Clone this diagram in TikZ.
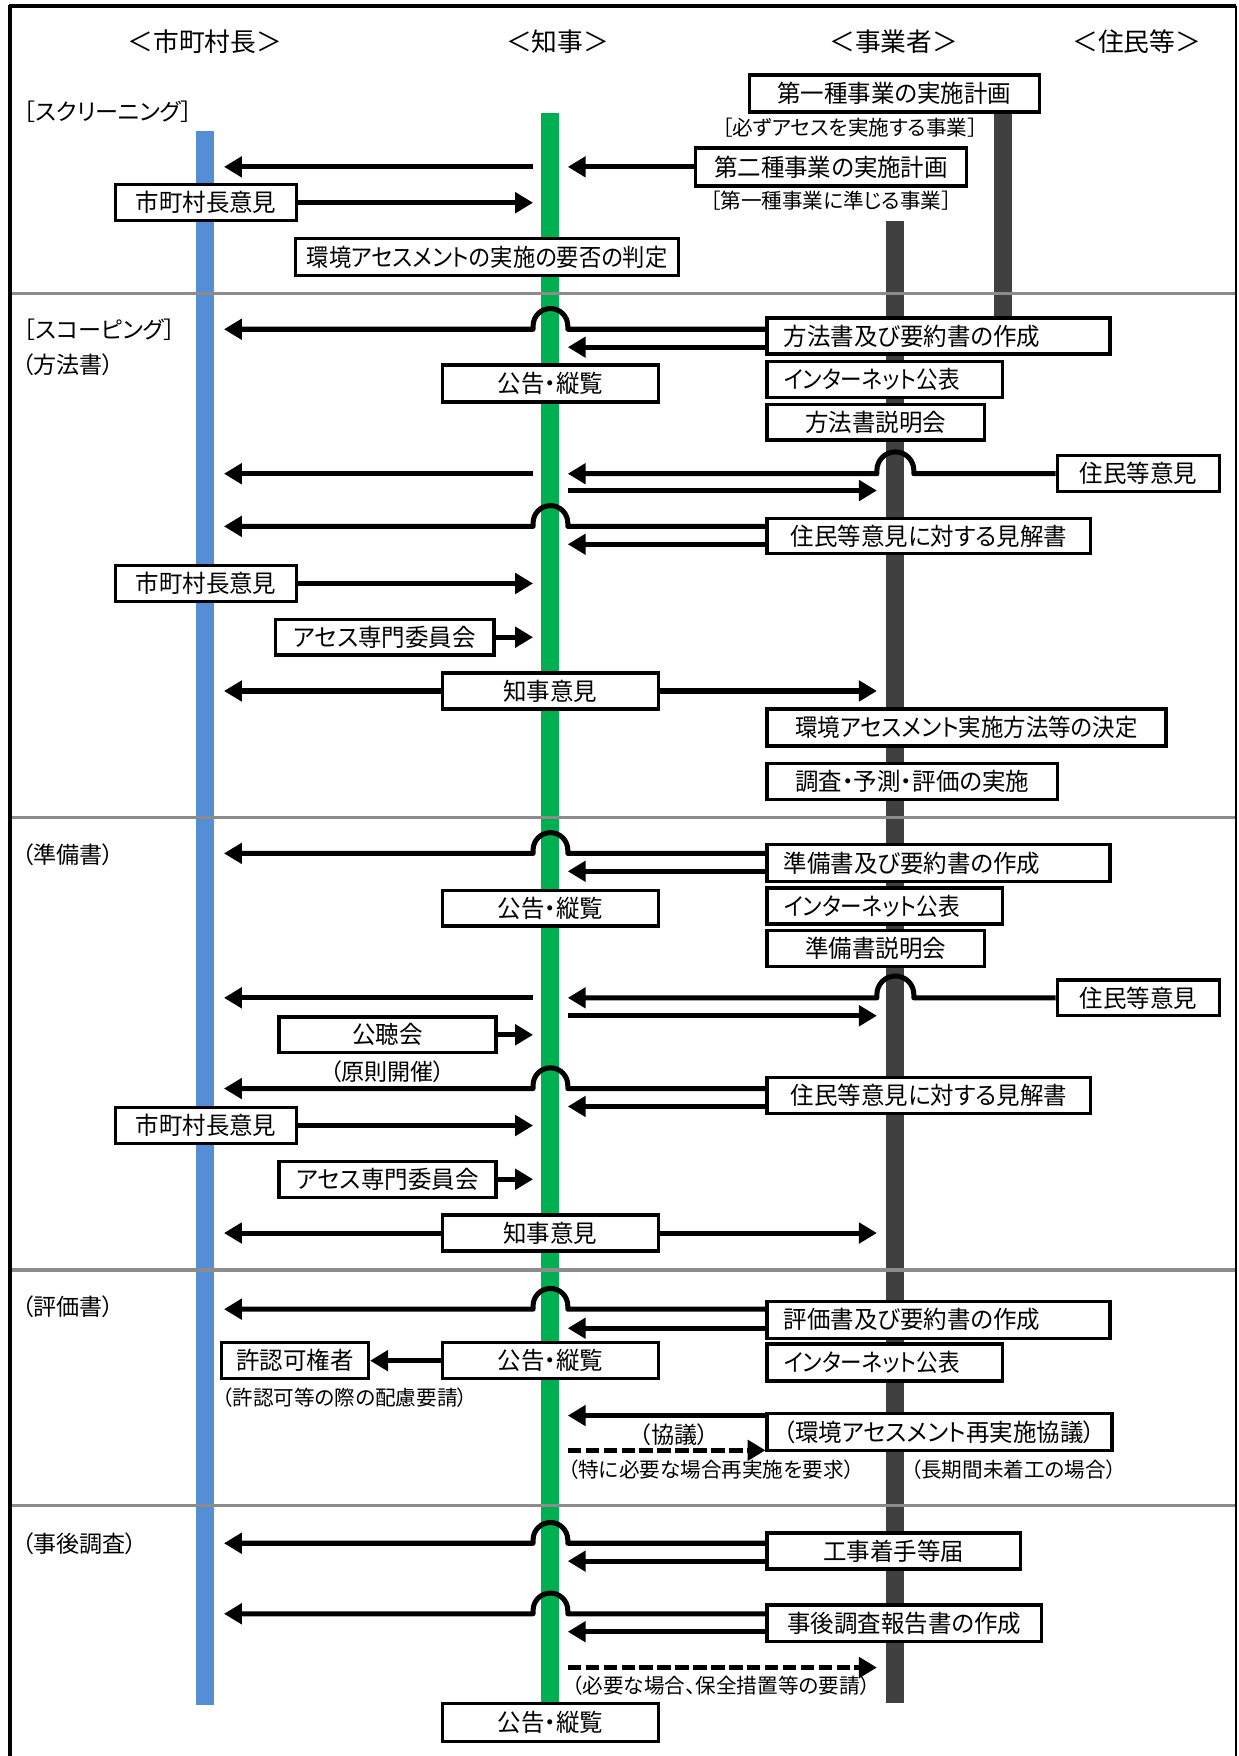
\documentclass[tikz,border=0pt]{standalone}
\usepackage{fontspec}
\setmainfont[RawFeature=+palt]{Noto Sans CJK JP}
\newfontfamily\boxfam[RawFeature=+palt,FakeStretch=0.97]{Noto Sans CJK JP}
\usetikzlibrary{arrows.meta}
\definecolor{cblue}{RGB}{85,142,213}
\definecolor{cgreen}{RGB}{0,176,80}
\definecolor{cgray}{RGB}{64,64,64}
\definecolor{cdiv}{RGB}{140,140,140}
\newcommand\fnthead{\fontsize{11.5pt}{14pt}\selectfont}
\newcommand\fntbox{\boxfam\fontsize{10.8pt}{12pt}\selectfont}
\newcommand\fntsec{\fontsize{10.3pt}{12pt}\selectfont}
\newcommand\fntsml{\fontsize{9.2pt}{11pt}\selectfont}
\newcommand\fntmid{\fontsize{10.3pt}{12pt}\selectfont}
\newcommand\sqz[2]{\scalebox{#1}[1]{#2}}
% hop over the green lifeline, arrow to blue
\newcommand\hopG[2]{\draw[arr] (#1 |- 0,#2) -- (GR |- 0,#2) -- ++(0,-3) arc[start angle=0,end angle=-180,radius=15.5] -- ++(0,3) -- (BL |- 0,#2);}
% hop over the dark lifeline, arrow to green
\newcommand\hopD[2]{\draw[arr] (#1 |- 0,#2) -- (816,#2) -- ++(0,-3) arc[start angle=0,end angle=-180,radius=16.5] -- ++(0,3) -- (GR |- 0,#2);}
\begin{document}
\begin{tikzpicture}[x=0.5pt,y=-0.5pt,
 bx/.style={draw=black,line width=1.5pt,fill=white,inner sep=0pt,font=\fntbox,minimum height=16pt},
 bxl/.style={bx,align=left,inner xsep=7.5pt},
 arr/.style={line width=2.25pt,line join=round,-{Triangle[length=8pt,width=9pt]}},
 dsh/.style={arr,dash pattern=on 6pt off 2pt},
 lbl/.style={inner sep=0pt,font=\fntsml},
 sec/.style={inner sep=0pt,font=\fntsec,anchor=west},
 head/.style={inner sep=0pt,font=\fnthead},
 divl/.style={draw=cdiv,line width=1.4pt}]
\useasboundingbox (0,0) rectangle (1106,1568);
\fill[white] (0,0) rectangle (1106,1568);
% lifelines
\fill[cblue] (175,117) rectangle (191,1522);
\fill[cgreen] (483,101) rectangle (499,1525);
\fill[cgray] (791,197) rectangle (807,1521);
\fill[cgray] (888,95) rectangle (904,300);
% section dividers
\foreach \yy in {262,730,1134,1344} \draw[divl] (10,\yy) -- (1104,\yy);
% lifeline reference points
\coordinate (BL) at (200,0);
\coordinate (GL) at (476,0);
\coordinate (GR) at (507,0);
\coordinate (DL) at (783,0);
% headings
\node[head] (h1) at (183,37) {＜市町村長＞};
\node[head] (h2) at (498,37) {＜知事＞};
\node[head] (h3) at (798,37) {＜事業者＞};
\node[head] (h4) at (1015,37) {＜住民等＞};
% section labels
\node[sec] (s1) at (21,100) {［スクリーニング］};
\node[sec] (s2) at (21,294) {［スコーピング］};
\node[sec] (s3) at (19,326) {（方法書）};
\node[sec] (s4) at (19,763) {（準備書）};
\node[sec] (s5) at (19,1167) {（評価書）};
\node[sec] (s6) at (19,1378) {（事後調査）};
% screening
\node[bx,minimum width=129.5pt,minimum height=16.5pt] (b1) at (798.5,83.5) {第一種事業の実施計画};
\node[lbl] (t1) at (759,114) {［必ずアセスを実施する事業］};
\node[bx,minimum width=121pt,minimum height=17pt] (b2) at (742,149) {第二種事業の実施計画};
\node[lbl] (t2) at (742,179) {［第一種事業に準じる事業］};
\node[bx,minimum width=81pt] (b3) at (184,181) {市町村長意見};
\node[bx,minimum width=171pt,minimum height=16.5pt] (b4) at (435,229.5) {\sqz{0.95}{環境アセスメントの実施の要否の判定}};
% scoping
\node[bxl,text width=138pt] (b5) at (838,300) {方法書及び要約書の作成};
\node[bx,minimum width=96.5pt,minimum height=16.5pt] (b6) at (491.5,342.5) {公告・縦覧};
\node[bxl,text width=90pt] (b7) at (790,339) {\sqz{0.92}{インターネット公表}};
\node[bx,minimum width=97pt] (b8) at (782,377) {方法書説明会};
\node[bx,minimum width=72.5pt] (b9) at (1016.5,423) {住民等意見};
\node[bx,minimum width=144.5pt,minimum height=15.5pt] (b10) at (829.5,478.5) {住民等意見に対する見解書};
\node[bx,minimum width=81pt] (b11) at (184,521) {市町村長意見};
\node[bx,minimum width=97.5pt] (b12) at (343.5,569) {アセス専門委員会};
\node[bx,minimum width=96.5pt] (b13) at (491.5,617) {知事意見};
\node[bx,minimum width=178pt,minimum height=16.5pt] (b14) at (863,649.5) {\sqz{0.955}{環境アセスメント実施方法等の決定}};
\node[bx,minimum width=129.5pt] (b15) at (814.5,698) {調査・予測・評価の実施};
% preparation
\node[bxl,text width=138pt,minimum height=16.5pt] (b16) at (838,770.5) {準備書及び要約書の作成};
\node[bx,minimum width=96.5pt] (b17) at (491.5,811) {公告・縦覧};
\node[bxl,text width=90pt] (b18) at (790,809) {\sqz{0.92}{インターネット公表}};
\node[bx,minimum width=97pt] (b19) at (782,847) {準備書説明会};
\node[bx,minimum width=72.5pt] (b20) at (1016.5,891) {住民等意見};
\node[bx,minimum width=97pt] (b21) at (346,924) {公聴会};
\node[inner sep=0pt,font=\fntmid] (t3) at (346,957) {（原則開催）};
\node[bx,minimum width=144.5pt] (b22) at (829.5,978) {住民等意見に対する見解書};
\node[bx,minimum width=81pt] (b23) at (184,1005) {市町村長意見};
\node[bx,minimum width=97pt] (b24) at (346,1053) {アセス専門委員会};
\node[bx,minimum width=96.5pt] (b25) at (491.5,1101) {知事意見};
% evaluation
\node[bxl,text width=138pt,minimum height=16.5pt] (b26) at (838,1178.5) {評価書及び要約書の作成};
\node[bx,minimum width=96.5pt] (b27) at (491.5,1215) {公告・縦覧};
\node[bx,minimum width=65.5pt] (b28) at (263.5,1215) {許認可権者};
\node[lbl,anchor=west] (t4) at (198,1248) {（許認可等の際の配慮要請）};
\node[bxl,text width=90pt,minimum height=16.5pt] (b29) at (790,1216.5) {\sqz{0.92}{インターネット公表}};
\node[bx,minimum width=154pt,minimum height=16.5pt] (b30) at (839,1278.5) {（環境アセスメント再実施協議）};
\node[inner sep=0pt,font=\fntmid] (t5) at (602,1281) {（協議）};
\node[lbl] (t6) at (635,1312) {（特に必要な場合再実施を要求）};
\node[lbl] (t7) at (905,1312) {（長期間未着工の場合）};
% post survey
\node[bx,minimum width=113pt] (b31) at (798,1385) {工事着手等届};
\node[bx,minimum width=122.5pt,minimum height=16.5pt] (b32) at (807.5,1449.5) {事後調査報告書の作成};
\node[lbl] (t8) at (644,1505) {（必要な場合、保全措置等の要請）};
\node[bx,minimum width=96.5pt,minimum height=17pt] (b33) at (491.5,1538) {公告・縦覧};
% ---- connectors ----
% screening
\draw[arr] (b2.west) -- (GR |- b2.west);
\draw[arr] (GL |- 0,149) -- (BL |- 0,149);
\draw[arr] (b3.east) -- (GL |- b3.east);
% scoping
\hopG{b5.west}{294}
\draw[arr] (b5.west |- 0,310) -- (GR |- 0,310);
\hopD{b9.west}{423}
\draw[arr] (GL |- 0,423) -- (BL |- 0,423);
\draw[arr] (GR |- 0,438) -- (DL |- 0,438);
\hopG{b10.west}{470}
\draw[arr] (b10.west |- 0,486) -- (GR |- 0,486);
\draw[arr] (b11.east) -- (GL |- b11.east);
\draw[arr] (b12.east) -- (GL |- b12.east);
\draw[arr] (b13.west) -- (BL |- b13.west);
\draw[arr] (b13.east) -- (DL |- b13.east);
% preparation
\hopG{b16.west}{762}
\draw[arr] (b16.west |- 0,778) -- (GR |- 0,778);
\hopD{b20.west}{891}
\draw[arr] (GL |- 0,891) -- (BL |- 0,891);
\draw[arr] (GR |- 0,907) -- (DL |- 0,907);
\draw[arr] (b21.east) -- (GL |- b21.east);
\hopG{b22.west}{972}
\draw[arr] (b22.west |- 0,988) -- (GR |- 0,988);
\draw[arr] (b23.east) -- (GL |- b23.east);
\draw[arr] (b24.east) -- (GL |- b24.east);
\draw[arr] (b25.west) -- (BL |- b25.west);
\draw[arr] (b25.east) -- (DL |- b25.east);
% evaluation
\hopG{b26.west}{1169}
\draw[arr] (b26.west |- 0,1186) -- (GR |- 0,1186);
\draw[arr] (b27.west) -- (b28.east);
\draw[arr] (b30.west |- 0,1264) -- (GR |- 0,1264);
\draw[dsh] (GR |- 0,1295) -- (b30.west |- 0,1295);
% post survey
\hopG{b31.west}{1378}
\draw[arr] (b31.west |- 0,1394) -- (GR |- 0,1394);
\hopG{b32.west}{1441}
\draw[arr] (b32.west |- 0,1457) -- (GR |- 0,1457);
\draw[dsh] (GR |- 0,1489) -- (DL |- 0,1489);
% frame
\draw[line width=1.8pt] (8,5.4) -- (1104,5.4);
\draw[line width=2pt] (9,4.5) -- (9,1568);
\draw[line width=0.8pt] (1104,5) -- (1104,1568);
\end{tikzpicture}
\end{document}
